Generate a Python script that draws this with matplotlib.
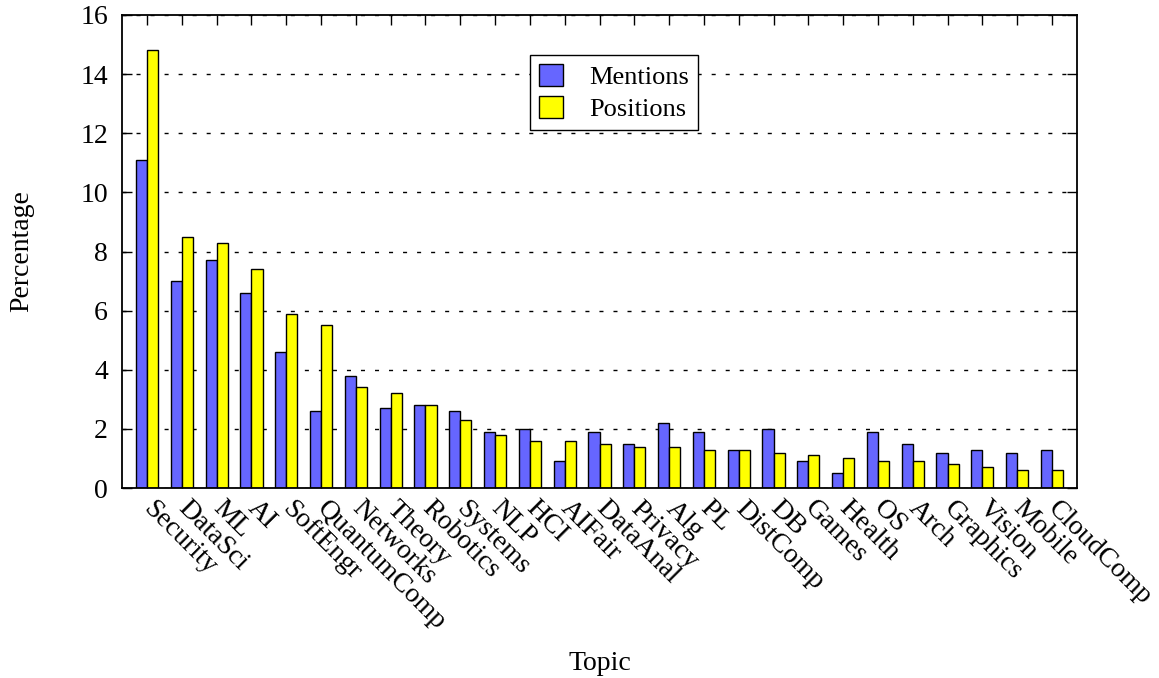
import matplotlib.pyplot as plt
import numpy as np

plt.rcParams['font.family'] = ['Liberation Serif', 'DejaVu Serif']

topics = ['Security', 'DataSci', 'ML', 'AI', 'SoftEngr', 'QuantumComp', 'Networks',
          'Theory', 'Robotics', 'Systems', 'NLP', 'HCI', 'AIFair', 'DataAnal',
          'Privacy', 'Alg', 'PL', 'DistComp', 'DB', 'Games', 'Health', 'OS',
          'Arch', 'Graphics', 'Vision', 'Mobile', 'CloudComp']
mentions = [11.1, 7.0, 7.7, 6.6, 4.6, 2.6, 3.8, 2.7, 2.8, 2.6, 1.9, 2.0, 0.9, 1.9,
            1.5, 2.2, 1.9, 1.3, 2.0, 0.9, 0.5, 1.9, 1.5, 1.2, 1.3, 1.2, 1.3]
positions = [14.8, 8.5, 8.3, 7.4, 5.9, 5.5, 3.4, 3.2, 2.8, 2.3, 1.8, 1.6, 1.6, 1.5,
             1.4, 1.4, 1.3, 1.3, 1.2, 1.1, 1.0, 0.9, 0.9, 0.8, 0.7, 0.6, 0.6]

fs = 20

fig = plt.figure(figsize=(11.59, 6.78), dpi=100)
ax = fig.add_axes([122 / 1159, 1 - 488 / 678, 955 / 1159, 473 / 678])

x = np.arange(len(topics))
w = 0.32
ax.bar(x - w / 2, mentions, w, color='#6666ff', edgecolor='black', lw=1,
       label='Mentions', zorder=2)
ax.bar(x + w / 2, positions, w, color='#ffff00', edgecolor='black', lw=1,
       label='Positions', zorder=2)

ax.set_xlim(-0.72, len(topics) - 1 + 0.72)
ax.set_ylim(0, 16)
ax.set_yticks(range(0, 17, 2))
ax.set_xticks(x)
ax.set_xticklabels(topics, rotation=-45, ha='left', va='center',
                   rotation_mode='anchor')
ax.tick_params(direction='in', length=7, width=1, labelsize=fs,
               top=True, right=True)
ax.tick_params(axis='y', pad=10)
ax.tick_params(axis='x', pad=12)
ax.yaxis.grid(True, linestyle=(0, (2.9, 7.2)), color='black', lw=1, zorder=0)
for s in ax.spines.values():
    s.set_linewidth(1.3)

ax.set_ylabel('Percentage', fontsize=fs, va='center')
ax.yaxis.set_label_coords(-100 / 955, 0.5)
ax.set_xlabel('Topic', fontsize=fs, va='center')
ax.xaxis.set_label_coords(0.5, -(663 - 488) / 473)

leg = ax.legend(loc='upper left', bbox_to_anchor=(0.427, 0.915), fontsize=19,
                frameon=True, fancybox=False, edgecolor='black',
                handlelength=0.9, handleheight=0.9, borderpad=0.35,
                labelspacing=0.25, handletextpad=1.0, borderaxespad=0)
leg.get_frame().set_linewidth(1)
leg.get_frame().set_alpha(1)

fig.savefig('out.png', dpi=100)
